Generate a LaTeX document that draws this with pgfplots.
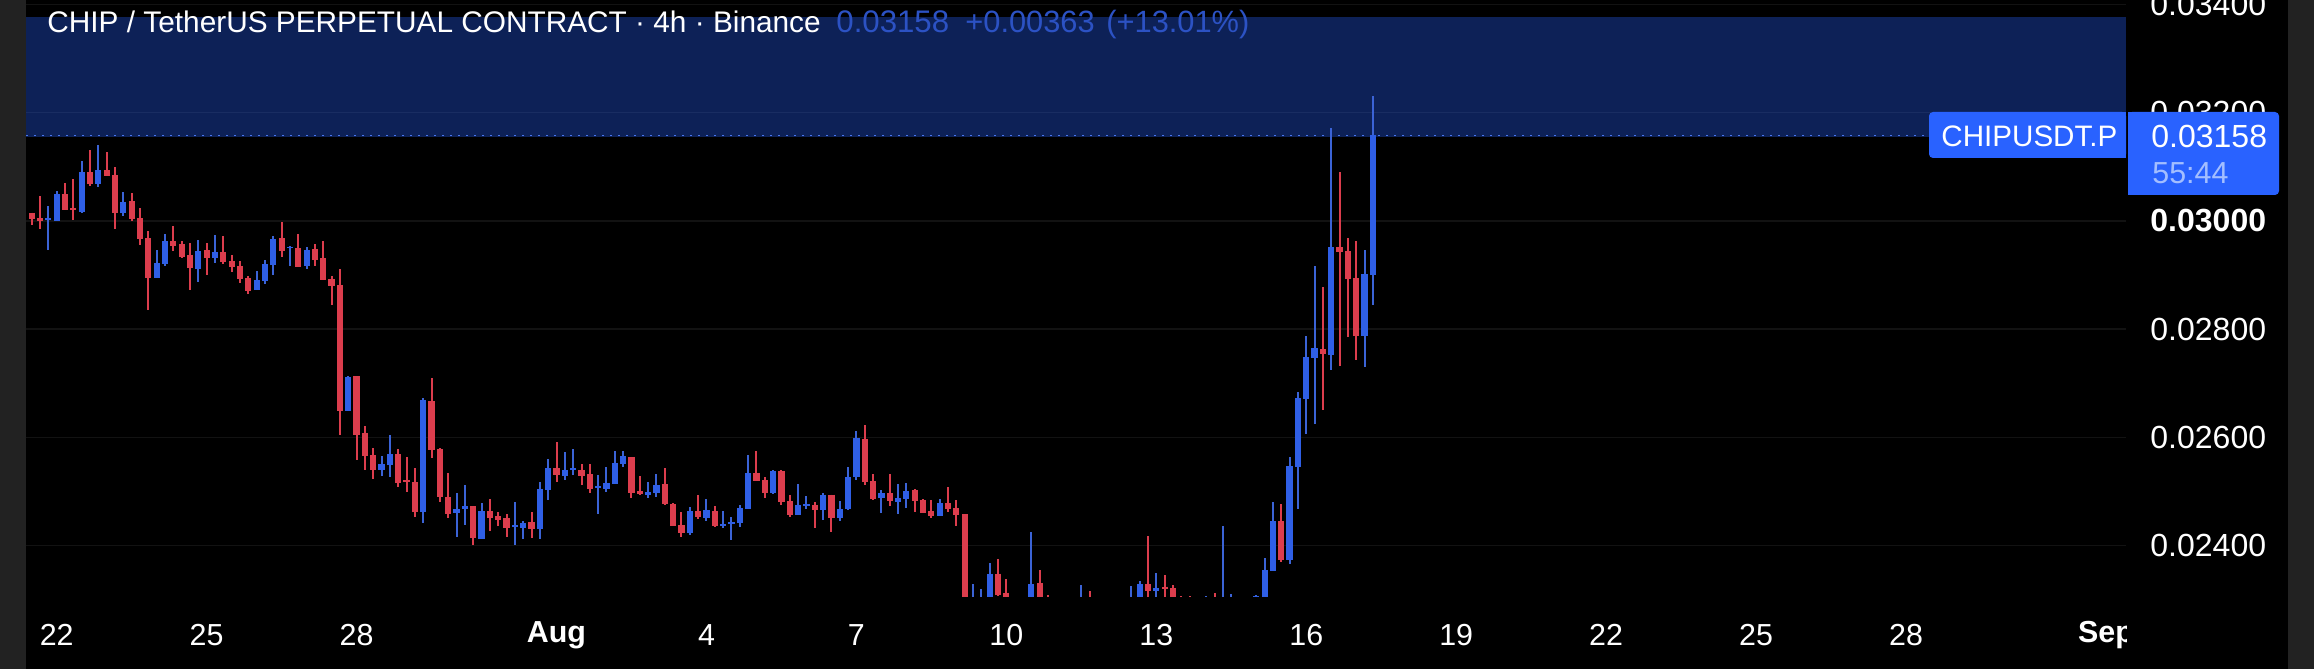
\documentclass[border=0pt]{standalone}
\usepackage{pgfplots}
\usepackage{pgfplotstable}
\usepackage{fontspec}
\setmainfont{Liberation Sans}
\pgfplotsset{compat=1.18}
\definecolor{cred}{HTML}{DC3D4D}
\definecolor{cblue}{HTML}{2F5FE6}
\definecolor{cwick}{HTML}{3B63D6}
\definecolor{cband}{HTML}{2962FF}
\definecolor{cbox}{HTML}{2962FF}
\definecolor{cstrip}{HTML}{222222}
\definecolor{cgrid}{HTML}{121212}
\definecolor{cdot}{HTML}{4A78F0}
\definecolor{ctitle}{HTML}{2C52C4}
\definecolor{cdim}{HTML}{A3BEFF}
\pgfplotstableread{
x high top bot low
0 0.03015 0.03015 0.03003 0.02992
1 0.03046 0.03005 0.03000 0.02985
4 0.03069 0.03049 0.03020 0.03020
5 0.03078 0.03024 0.03020 0.03001
7 0.03130 0.03090 0.03068 0.03065
9 0.03127 0.03094 0.03083 0.03083
10 0.03099 0.03084 0.03014 0.02985
12 0.03051 0.03036 0.03003 0.03000
13 0.03024 0.03005 0.02966 0.02955
14 0.02981 0.02968 0.02894 0.02835
17 0.02990 0.02962 0.02953 0.02944
18 0.02962 0.02957 0.02933 0.02931
19 0.02959 0.02937 0.02913 0.02872
21 0.02959 0.02946 0.02931 0.02900
23 0.02972 0.02942 0.02924 0.02920
24 0.02937 0.02926 0.02915 0.02905
25 0.02926 0.02916 0.02892 0.02885
26 0.02898 0.02894 0.02870 0.02865
30 0.02998 0.02968 0.02944 0.02933
32 0.02975 0.02950 0.02915 0.02915
34 0.02957 0.02948 0.02927 0.02916
35 0.02962 0.02931 0.02891 0.02891
36 0.02898 0.02892 0.02879 0.02844
37 0.02911 0.02881 0.02649 0.02604
39 0.02714 0.02713 0.02604 0.02558
40 0.02621 0.02608 0.02565 0.02540
41 0.02580 0.02567 0.02540 0.02523
44 0.02578 0.02569 0.02516 0.02508
45 0.02564 0.02522 0.02517 0.02499
46 0.02543 0.02517 0.02462 0.02453
48 0.02710 0.02667 0.02577 0.02562
49 0.02580 0.02578 0.02490 0.02481
50 0.02534 0.02490 0.02458 0.02451
53 0.02473 0.02473 0.02414 0.02401
55 0.02486 0.02464 0.02451 0.02427
56 0.02462 0.02455 0.02447 0.02436
57 0.02458 0.02451 0.02433 0.02416
60 0.02462 0.02444 0.02431 0.02414
63 0.02591 0.02543 0.02530 0.02517
66 0.02551 0.02540 0.02528 0.02512
67 0.02551 0.02532 0.02505 0.02497
72 0.02564 0.02564 0.02497 0.02488
73 0.02528 0.02501 0.02495 0.02493
76 0.02543 0.02514 0.02477 0.02475
77 0.02479 0.02477 0.02436 0.02436
78 0.02462 0.02438 0.02423 0.02416
80 0.02493 0.02464 0.02453 0.02449
82 0.02473 0.02464 0.02436 0.02434
87 0.02575 0.02534 0.02519 0.02519
88 0.02527 0.02521 0.02497 0.02488
90 0.02540 0.02538 0.02481 0.02475
91 0.02494 0.02482 0.02457 0.02453
94 0.02481 0.02475 0.02466 0.02432
96 0.02494 0.02494 0.02451 0.02425
100 0.02623 0.02597 0.02518 0.02512
101 0.02532 0.02519 0.02486 0.02484
103 0.02532 0.02497 0.02482 0.02473
106 0.02505 0.02503 0.02482 0.02462
107 0.02486 0.02484 0.02460 0.02460
108 0.02484 0.02464 0.02455 0.02451
110 0.02508 0.02479 0.02468 0.02462
111 0.02484 0.02469 0.02457 0.02436
112 0.02458 0.02458 0.02290 0.02290
116 0.02375 0.02348 0.02309 0.02306
117 0.02338 0.02313 0.02295 0.02290
121 0.02355 0.02331 0.02290 0.02290
122 0.02309 0.02300 0.02290 0.02290
127 0.02316 0.02300 0.02290 0.02290
134 0.02418 0.02329 0.02316 0.02290
136 0.02346 0.02324 0.02320 0.02290
137 0.02327 0.02322 0.02295 0.02290
138 0.02307 0.02300 0.02290 0.02290
139 0.02307 0.02300 0.02290 0.02290
142 0.02313 0.02300 0.02290 0.02290
150 0.02477 0.02445 0.02373 0.02370
155 0.02878 0.02763 0.02754 0.02650
157 0.03090 0.02951 0.02942 0.02732
158 0.02968 0.02944 0.02892 0.02785
159 0.02963 0.02894 0.02787 0.02743
}\redtab
\pgfplotstableread{
x high top bot low
2 0.03027 0.03005 0.03002 0.02946
3 0.03055 0.03050 0.03000 0.03000
6 0.03110 0.03090 0.03016 0.03014
8 0.03140 0.03094 0.03068 0.03062
11 0.03053 0.03035 0.03014 0.03009
15 0.02946 0.02922 0.02894 0.02894
16 0.02975 0.02962 0.02920 0.02916
20 0.02964 0.02944 0.02911 0.02887
22 0.02974 0.02942 0.02931 0.02922
27 0.02907 0.02891 0.02872 0.02872
28 0.02927 0.02920 0.02889 0.02883
29 0.02972 0.02966 0.02918 0.02900
31 0.02953 0.02952 0.02950 0.02916
33 0.02951 0.02946 0.02916 0.02911
38 0.02714 0.02711 0.02648 0.02648
42 0.02565 0.02551 0.02540 0.02528
43 0.02604 0.02569 0.02549 0.02527
47 0.02673 0.02669 0.02462 0.02442
51 0.02497 0.02468 0.02460 0.02416
52 0.02512 0.02473 0.02468 0.02438
54 0.02479 0.02464 0.02412 0.02412
58 0.02481 0.02438 0.02435 0.02401
59 0.02445 0.02442 0.02433 0.02412
61 0.02517 0.02505 0.02431 0.02412
62 0.02560 0.02543 0.02503 0.02484
64 0.02573 0.02540 0.02528 0.02521
65 0.02578 0.02543 0.02540 0.02530
68 0.02530 0.02510 0.02506 0.02458
69 0.02545 0.02516 0.02505 0.02499
70 0.02575 0.02553 0.02514 0.02514
71 0.02575 0.02565 0.02551 0.02545
74 0.02517 0.02499 0.02493 0.02488
75 0.02532 0.02512 0.02497 0.02490
79 0.02471 0.02464 0.02423 0.02420
81 0.02486 0.02466 0.02451 0.02445
83 0.02464 0.02440 0.02436 0.02432
84 0.02453 0.02444 0.02440 0.02410
85 0.02475 0.02469 0.02442 0.02434
86 0.02567 0.02534 0.02468 0.02468
89 0.02540 0.02538 0.02497 0.02495
92 0.02514 0.02475 0.02457 0.02457
93 0.02492 0.02477 0.02473 0.02468
95 0.02497 0.02494 0.02466 0.02447
97 0.02482 0.02468 0.02451 0.02445
98 0.02545 0.02527 0.02468 0.02466
99 0.02612 0.02599 0.02527 0.02521
102 0.02503 0.02497 0.02488 0.02460
104 0.02514 0.02488 0.02481 0.02458
105 0.02516 0.02501 0.02486 0.02469
109 0.02486 0.02479 0.02455 0.02455
113 0.02329 0.02300 0.02290 0.02290
114 0.02320 0.02300 0.02290 0.02290
115 0.02368 0.02348 0.02290 0.02290
120 0.02425 0.02329 0.02290 0.02290
126 0.02327 0.02300 0.02290 0.02290
132 0.02325 0.02300 0.02290 0.02290
133 0.02335 0.02329 0.02290 0.02290
135 0.02349 0.02322 0.02316 0.02290
141 0.02307 0.02300 0.02290 0.02290
143 0.02436 0.02300 0.02290 0.02290
144 0.02311 0.02300 0.02290 0.02290
147 0.02308 0.02306 0.02290 0.02290
148 0.02377 0.02355 0.02290 0.02290
149 0.02481 0.02445 0.02353 0.02353
151 0.02564 0.02547 0.02373 0.02366
152 0.02684 0.02673 0.02545 0.02468
153 0.02787 0.02748 0.02671 0.02606
154 0.02916 0.02765 0.02746 0.02625
156 0.03171 0.02951 0.02752 0.02724
160 0.02946 0.02902 0.02787 0.02730
161 0.03230 0.03158 0.02900 0.02844
}\bluetab
\begin{document}
\begin{tikzpicture}
\useasboundingbox (-13pt,-36pt) rectangle (1144pt,298.5pt);
\clip (-13pt,-36pt) rectangle (1144pt,298.5pt);
\begin{scope}[x=0.5pt,y=-0.5pt,shift={(-13pt,298.5pt)}]
\fill[black] (0,0) rectangle (2314,669);
\fill[cstrip] (0,0) rectangle (26.5,669);
\fill[cstrip] (2288,0) rectangle (2314,669);
\end{scope}
\begin{axis}[
  scale only axis, width=1050pt, height=298.5pt,
  xmin=-0.684, xmax=251.4, ymin=0.02305, ymax=0.03408,
  axis line style={draw=none},
  major tick length=0pt,
  xtick={3,21,39,63,81,99,117,135,153,171,189,207,225,249},
  xticklabels={22,25,28,\textbf{Aug},4,7,10,13,16,19,22,25,28,\textbf{Sep}},
  ytick={0.024,0.026,0.028,0.03,0.032,0.034},
  yticklabels={0.02400,0.02600,0.02800,\textbf{0.03000},0.03200,0.03400},
  yticklabel pos=right,
  ymajorgrids, major grid style={draw=cgrid,line width=0.8pt},
  xticklabel style={text=white,font=\fontsize{15.2}{18}\selectfont,anchor=center,yshift=-19pt},
  yticklabel style={text=white,font=\fontsize{16}{18}\selectfont,anchor=west,xshift=8.7pt},
]
\addplot[draw=none,fill=cband,fill opacity=0.34,forget plot] coordinates {(-0.684,0.03154)(251.4,0.03154)(251.4,0.03376)(-0.684,0.03376)} --cycle;
\addplot[draw=cdot,line width=0.8pt,dash pattern=on 1pt off 3pt,forget plot] coordinates {(-0.684,0.03158)(251.4,0.03158)};
\addplot[draw=none,mark=none,forget plot,error bars/.cd,y dir=both,y explicit,error mark=none,error bar style={draw=cred,solid,line width=1pt}]
  table[x=x,y=top,y error plus expr=\thisrow{high}-\thisrow{top},y error minus expr=\thisrow{top}-\thisrow{low}] {\redtab};
\addplot[draw=none,mark=none,forget plot,error bars/.cd,y dir=minus,y explicit,error mark=none,error bar style={draw=cred,solid,line width=3.1pt}]
  table[x=x,y=top,y error minus expr=\thisrow{top}-\thisrow{bot}] {\redtab};
\addplot[draw=none,mark=none,forget plot,error bars/.cd,y dir=both,y explicit,error mark=none,error bar style={draw=cwick,solid,line width=1pt}]
  table[x=x,y=top,y error plus expr=\thisrow{high}-\thisrow{top},y error minus expr=\thisrow{top}-\thisrow{low}] {\bluetab};
\addplot[draw=none,mark=none,forget plot,error bars/.cd,y dir=minus,y explicit,error mark=none,error bar style={draw=cblue,solid,line width=3.1pt}]
  table[x=x,y=top,y error minus expr=\thisrow{top}-\thisrow{bot}] {\bluetab};
\end{axis}
\begin{scope}[x=0.5pt,y=-0.5pt,shift={(-13pt,298.5pt)}]
\fill[black] (2127,605) rectangle (2160,665);
\fill[cbox,rounded corners=2pt] (1929,112) rectangle (2126,158);
\fill[cbox] (2120,112) rectangle (2126,158);
\fill[cbox,rounded corners=2pt] (2128,112) rectangle (2279,195);
\fill[cbox] (2128,112) rectangle (2134,195);
\node[anchor=west,inner sep=0pt,text=white,font=\fontsize{14.8}{18}\selectfont] at (1941,136) {CHIPUSDT.P};
\node[anchor=west,inner sep=0pt,text=white,font=\fontsize{16}{18}\selectfont] at (2151,136) {0.03158};
\node[anchor=west,inner sep=0pt,text=cdim,font=\fontsize{15.2}{18}\selectfont] at (2152,173) {55:44};
\node[anchor=base west,inner sep=0pt,text=white,font=\fontsize{14.9}{18}\selectfont] at (47,33) {CHIP / TetherUS PERPETUAL CONTRACT · 4h · Binance};
\node[anchor=base west,inner sep=0pt,text=ctitle,font=\fontsize{15.6}{18}\selectfont] at (836,33) {0.03158};
\node[anchor=base west,inner sep=0pt,text=ctitle,font=\fontsize{15.4}{18}\selectfont] at (965,33) {+0.00363};
\node[anchor=base west,inner sep=0pt,text=ctitle,font=\fontsize{15.4}{18}\selectfont] at (1106,33) {(+13.01\%)};
\end{scope}
\end{tikzpicture}
\end{document}
